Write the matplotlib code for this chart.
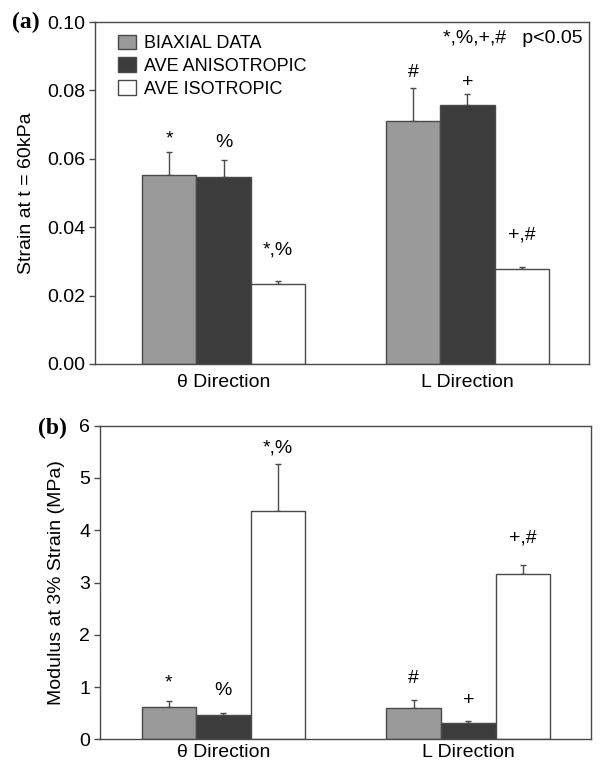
import numpy as np
import matplotlib
matplotlib.use("Agg")
import matplotlib.pyplot as plt

plt.rcParams['font.family'] = ['Liberation Sans', 'DejaVu Sans']

# data
directions = ["θ Direction", "L Direction"]
series = ["BIAXIAL DATA", "AVE ANISOTROPIC", "AVE ISOTROPIC"]
colors = ["#9a9a9a", "#3c3c3c", "#ffffff"]

strain = [[0.0553, 0.0711],
          [0.0547, 0.0756],
          [0.0234, 0.0278]]
strain_err = [[0.0067, 0.0097],
              [0.0049, 0.0034],
              [0.0010, 0.0007]]
strain_marks = [["*", "#"], ["%", "+"], ["*,%", "+,#"]]

modulus = [[0.62, 0.60],
           [0.47, 0.32],
           [4.37, 3.16]]
modulus_err = [[0.12, 0.15],
               [0.04, 0.035],
               [0.89, 0.17]]
modulus_marks = [["*", "#"], ["%", "+"], ["*,%", "+,#"]]

edge = "#4a4a4a"
width = 0.223

fig = plt.figure(figsize=(6.01, 7.72), dpi=100)
ax1 = fig.add_axes([0.158, 0.5285, 0.822, 0.443])
ax2 = fig.add_axes([0.1664, 0.0421, 0.8166, 0.4065])


def draw(ax, vals, errs, marks, offsets, xpad):
    x = np.arange(len(directions))
    for i, name in enumerate(series):
        xi = x + (i - 1) * width
        ax.bar(xi, vals[i], width, color=colors[i], edgecolor=edge, linewidth=1.0,
               label=name, zorder=2)
        ax.errorbar(xi, vals[i], yerr=[np.zeros(len(x)), errs[i]], fmt="none",
                    ecolor=edge, elinewidth=1.0, capsize=2.5, capthick=1.0, zorder=1)
        for j in range(len(x)):
            ax.annotate(marks[i][j], (xi[j], vals[i][j] + errs[i][j]),
                        xytext=(0, offsets[i][j]), textcoords="offset points",
                        ha="center", va="center", fontsize=14)
    ax.set_xticks(x)
    ax.set_xticklabels(directions)
    for s in ax.spines.values():
        s.set_color(edge)
        s.set_linewidth(1.0)
    ax.tick_params(axis="x", length=0, labelsize=14, pad=xpad)
    ax.tick_params(axis="y", direction="out", length=4, width=1, color=edge,
                   labelsize=14, pad=3)


draw(ax1, strain, strain_err, strain_marks,
     [[9, 11], [13, 8], [22, 23]], 7)
ax1.set_xlim(-0.527, 1.498)
ax1.set_ylim(0, 0.10)
ax1.set_yticks(np.arange(0, 0.101, 0.02))
ax1.set_yticklabels(["%.2f" % v for v in np.arange(0, 0.101, 0.02)])
ax1.set_ylabel("Strain at t = 60kPa", fontsize=14)
ax1.yaxis.set_label_coords(-0.121, 0.5)
ax1.text(0.988, 0.953, "*,%,+,#   p<0.05", transform=ax1.transAxes,
         ha="right", va="center", fontsize=14)
leg = ax1.legend(loc="upper left", bbox_to_anchor=(0.025, 0.995), frameon=False,
                 fontsize=13, handlelength=1.0, handleheight=0.85,
                 handletextpad=0.45, labelspacing=0.3, borderaxespad=0.2)

draw(ax2, modulus, modulus_err, modulus_marks,
     [[13, 16], [16, 15], [12, 20]], 3.5)
ax2.set_xlim(-0.504, 1.50)
ax2.set_ylim(0, 6)
ax2.set_yticks(range(0, 7))
ax2.set_ylabel("Modulus at 3% Strain (MPa)", fontsize=14)
ax2.yaxis.set_label_coords(-0.071, 0.5)

fig.text(12 / 601, 1 - 22 / 772, "(a)", family="Liberation Serif",
         fontweight="bold", fontsize=17, va="center", ha="left")
fig.text(38 / 601, 1 - 428 / 772, "(b)", family="Liberation Serif",
         fontweight="bold", fontsize=17, va="center", ha="left")

fig.savefig("out.png", dpi=100)
